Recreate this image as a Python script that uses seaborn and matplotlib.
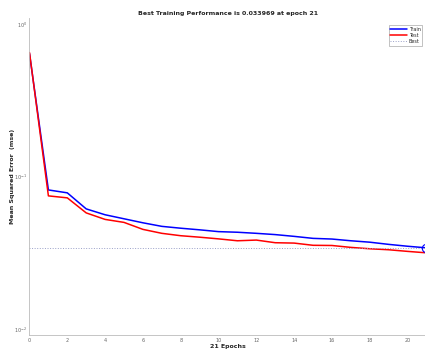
import pandas as pd
import seaborn as sns
import numpy as np
import matplotlib.pyplot as plt
from matplotlib.lines import Line2D

# performance values
epochs = list(range(22))
train_mse = [0.640, 0.0815, 0.0780, 0.0612, 0.0560, 0.0527, 0.0496, 0.0470,
             0.0457, 0.0446, 0.0434, 0.0430, 0.0423, 0.0415, 0.0404, 0.0392,
             0.0388, 0.0378, 0.0370, 0.0358, 0.0348, 0.033969]
test_mse = [0.650, 0.0745, 0.0723, 0.0576, 0.0522, 0.0499, 0.0449, 0.0423,
            0.0408, 0.0399, 0.0389, 0.0378, 0.0382, 0.0367, 0.0365, 0.0353,
            0.0352, 0.0342, 0.0335, 0.0330, 0.0322, 0.0315]
best_epoch = 21
best_perf = 0.033969

data = pd.DataFrame({'epoch': epochs + epochs,
                     'mse': train_mse + test_mse,
                     'set': ['Train'] * len(epochs) + ['Test'] * len(epochs)})

sns.set_style('white')
plt.rcParams['font.family'] = ['DejaVu Sans']

fig = plt.figure(figsize=(4.25, 3.51), dpi=100)
ax = fig.add_axes([0.0694, 0.0456, 0.934, 0.903])

sns.lineplot(data=data, x='epoch', y='mse', hue='set',
             palette={'Train': '#0000ff', 'Test': '#ff0000'},
             linewidth=1.1, ax=ax, legend=False)
ax.axhline(best_perf, color='#9aa0c8', linestyle=':', linewidth=0.7)
ax.plot([best_epoch], [best_perf], 'o', mfc='none', mec='#0000ff',
        markersize=6, mew=0.8, clip_on=False)

ax.set_yscale('log')
ax.set_xlim(0, 21)
ax.set_ylim(0.0091, 1.095)
ax.set_xticks(np.arange(0, 21, 2))
ax.tick_params(direction='in', labelsize=3.5, colors='#666666', length=2.5, width=0.5, pad=2)
ax.tick_params(which='minor', direction='in', length=1.5, width=0.4, colors='#666666')

ax.set_title('Best Training Performance is 0.033969 at epoch 21', fontsize=4.5,
             fontweight='bold', pad=2)
ax.set_xlabel('21 Epochs', fontsize=4.5, fontweight='bold', labelpad=1)
ax.set_ylabel('Mean Squared Error  (mse)', fontsize=4.5, fontweight='bold', labelpad=-1)

for s in ['top', 'right']:
    ax.spines[s].set_visible(False)
for s in ['left', 'bottom']:
    ax.spines[s].set_color('#bbbbbb')
    ax.spines[s].set_linewidth(0.6)

handles = [Line2D([], [], color='#0000ff', lw=1.1),
           Line2D([], [], color='#ff0000', lw=1.1),
           Line2D([], [], color='#9aa0c8', lw=0.7, ls=':')]
leg = ax.legend(handles, ['Train', 'Test', 'Best'], loc='upper right',
                bbox_to_anchor=(0.995, 0.985), fontsize=3.5, handlelength=3.5,
                handletextpad=0.3, borderpad=0.3, labelspacing=0.25,
                fancybox=False, framealpha=1)
leg.get_frame().set_edgecolor('#aaaaaa')
leg.get_frame().set_linewidth(0.5)

fig.savefig('out.png', dpi=100)
